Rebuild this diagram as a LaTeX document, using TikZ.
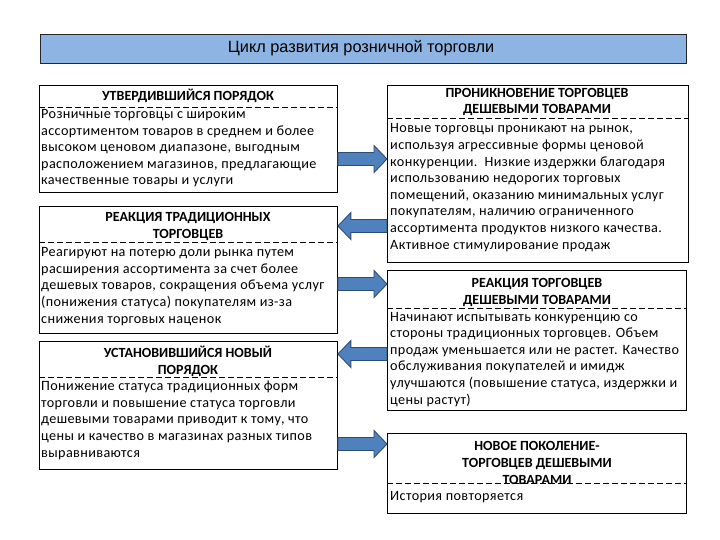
\documentclass[tikz,border=0pt]{standalone}
\usepackage{fontspec}
\setmainfont{Carlito}
\newfontfamily\bodyfont[LetterSpace=2.6]{Carlito}
\newfontfamily\titlefont{Liberation Sans}
\usetikzlibrary{calc}
\definecolor{titleblue}{HTML}{8DB4E2}
\definecolor{arrowblue}{HTML}{4F81BD}
\definecolor{arrowedge}{HTML}{2C4D75}
\newcommand\blockarr[3]{%
  \draw[blockarrow] ($(#1)+(0,-6.5)$) -- ($(#2)+(-13*#3,-6.5)$) -- ($(#2)+(-13*#3,-13.5)$) -- (#2)
    -- ($(#2)+(-13*#3,13.5)$) -- ($(#2)+(-13*#3,6.5)$) -- ($(#1)+(0,6.5)$) -- cycle;}
\begin{document}
\begin{tikzpicture}[x=1pt,y=-1pt,
  box/.style={draw=black, line width=0.9pt, anchor=north west, inner sep=0},
  titlebox/.style={draw=black!85, fill=titleblue, line width=1pt, anchor=north west, inner sep=0},
  divider/.style={draw=black, dash pattern=on 6pt off 3pt, line width=0.7pt},
  head/.style={font=\fontsize{14}{16.6}\selectfont\bfseries, align=center, anchor=base, inner sep=0},
  body/.style={font=\bodyfont\fontsize{14.2}{16.6}\selectfont, align=left, anchor=base west, inner sep=0},
  blockarrow/.style={fill=arrowblue, draw=arrowedge, line width=0.9pt, line join=miter}]
\useasboundingbox (0,0) rectangle (720,540);

% title
\node[titlebox, minimum width=646, minimum height=29] (title) at (40,34) {};
\node[font=\titlefont\fontsize{16.3}{18}\selectfont, inner sep=0] (titletext) at (361,48.5) {Цикл развития розничной торговли};

% left boxes
\node[box, minimum width=298, minimum height=107] (b1) at (39,85) {};
\node[box, minimum width=298, minimum height=127] (b2) at (39,206) {};
\node[box, minimum width=298, minimum height=128] (b3) at (39,341) {};
% right boxes
\node[box, minimum width=301, minimum height=177] (b4) at (387,85) {};
\node[box, minimum width=299, minimum height=140] (b5) at (387,270) {};
\node[box, minimum width=299, minimum height=80] (b6) at (387,433) {};

% dividers
\draw[divider] (b1.west |- 0,107) -- (b1.east |- 0,107);
\draw[divider] (b2.west |- 0,242) -- (b2.east |- 0,242);
\draw[divider] (b3.west |- 0,377) -- (b3.east |- 0,377);
\draw[divider] (b4.west |- 0,118) -- (b4.east |- 0,118);
\draw[divider] (b5.west |- 0,308) -- (b5.east |- 0,308);
\draw[divider] (b6.west |- 0,483) -- (b6.east |- 0,483);

% headings (anchor = baseline of last line)
\node[head] (h1) at (188,101) {УТВЕРДИВШИЙСЯ ПОРЯДОК};
\node[head] (h2) at (188,238) {РЕАКЦИЯ ТРАДИЦИОННЫХ\\ТОРГОВЦЕВ};
\node[head] (h3) at (188,374) {УСТАНОВИВШИЙСЯ НОВЫЙ\\ПОРЯДОК};
\node[head] (h4) at (537,114) {ПРОНИКНОВЕНИЕ ТОРГОВЦЕВ\\ДЕШЕВЫМИ ТОВАРАМИ};
\node[head] (h5) at (537,304) {РЕАКЦИЯ ТОРГОВЦЕВ\\ДЕШЕВЫМИ ТОВАРАМИ};
\node[head] (h6) at (537,484) {НОВОЕ ПОКОЛЕНИЕ-\\ТОРГОВЦЕВ ДЕШЕВЫМИ\\ТОВАРАМИ};

% bodies (anchor = baseline of last line)
\node[body] (t1) at (41,185) {Розничные торговцы с широким\\ассортиментом товаров в среднем и более\\высоком ценовом диапазоне, выгодным\\расположением магазинов, предлагающие\\качественные товары и услуги};
\node[body] (t2) at (41,323) {Реагируют на потерю доли рынка путем\\расширения ассортимента за счет более\\дешевых товаров, сокращения объема услуг\\(понижения статуса) покупателям из-за\\снижения торговых наценок};
\node[body] (t3) at (41,457) {Понижение статуса традиционных форм\\торговли и повышение статуса торговли\\дешевыми товарами приводит к тому, что\\цены и качество в магазинах разных типов\\выравниваются};
\node[body] (t4) at (390,249) {Новые торговцы проникают на рынок,\\используя агрессивные формы ценовой\\конкуренции.\ \ Низкие издержки благодаря\\использованию недорогих торговых\\помещений, оказанию минимальных услуг\\покупателям, наличию ограниченного\\ассортимента продуктов низкого качества.\\Активное стимулирование продаж};
\node[body] (t5) at (390,404) {Начинают испытывать конкуренцию со\\стороны традиционных торговцев. Объем\\продаж уменьшается или не растет. Качество\\обслуживания покупателей и имидж\\улучшаются (повышение статуса, издержки и\\цены растут)};
\node[body] (t6) at (390,500) {История повторяется};

% arrows
\coordinate (a1s) at (b1.east |- 0,159);  \coordinate (a1e) at (b4.west |- 0,159);
\coordinate (a2s) at (b4.west |- 0,226);  \coordinate (a2e) at (b2.east |- 0,226);
\coordinate (a3s) at (b2.east |- 0,284);  \coordinate (a3e) at (b5.west |- 0,284);
\coordinate (a4s) at (b5.west |- 0,354);  \coordinate (a4e) at (b3.east |- 0,354);
\coordinate (a5s) at (b3.east |- 0,444);  \coordinate (a5e) at (b6.west |- 0,444);
\blockarr{a1s}{a1e}{1}
\blockarr{a2s}{a2e}{-1}
\blockarr{a3s}{a3e}{1}
\blockarr{a4s}{a4e}{-1}
\blockarr{a5s}{a5e}{1}
\end{tikzpicture}
\end{document}
